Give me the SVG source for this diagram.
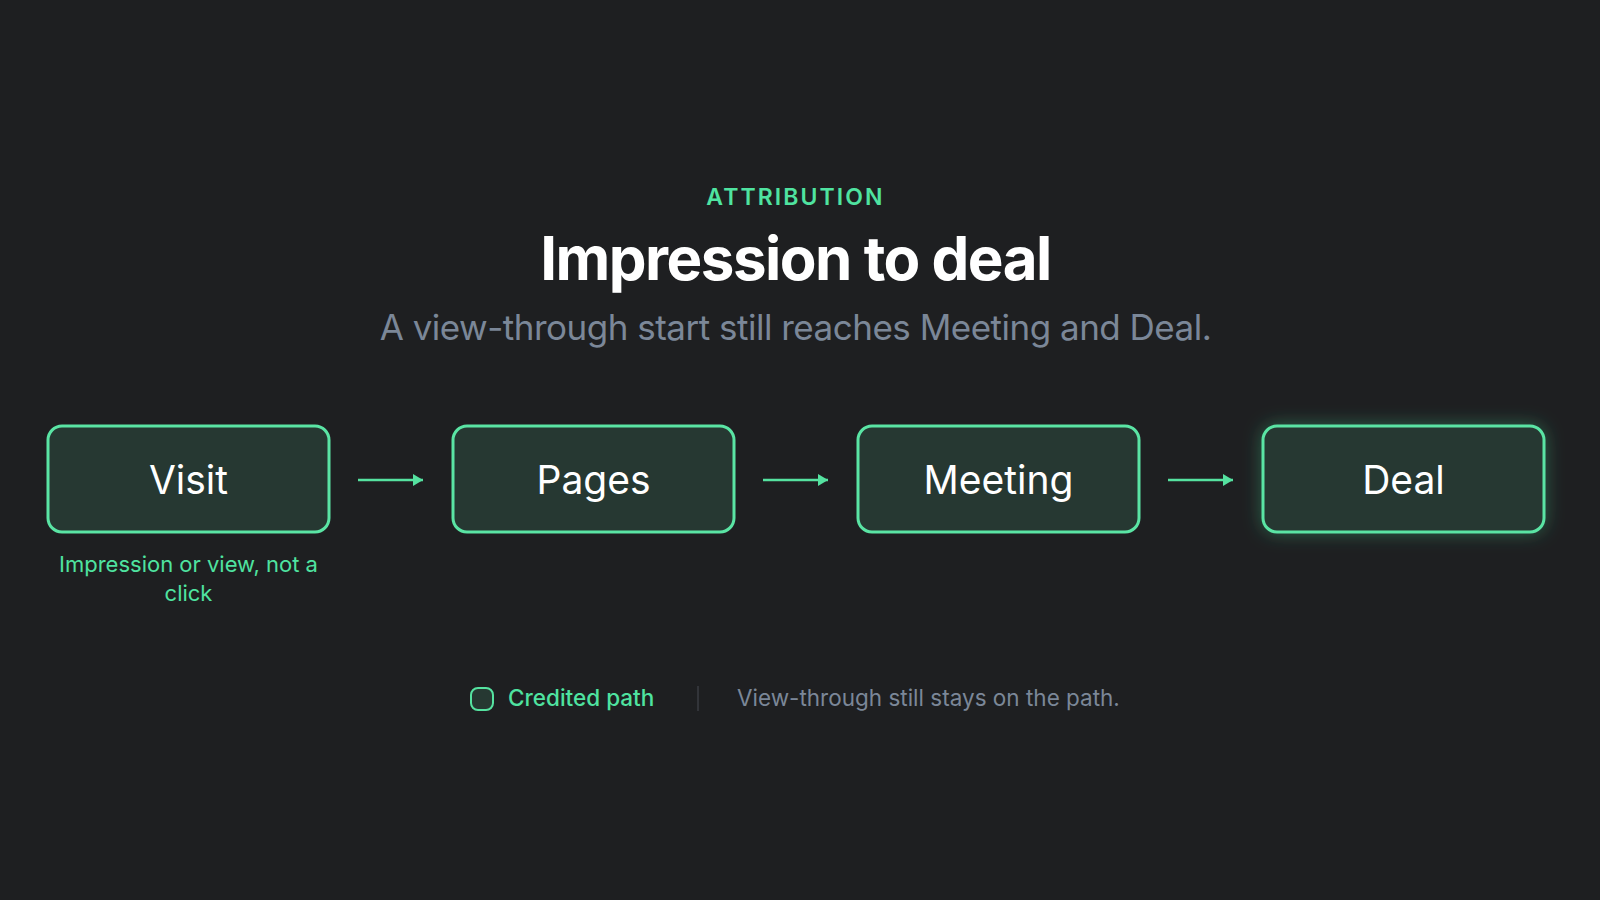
<svg xmlns="http://www.w3.org/2000/svg" width="1600" height="900" viewBox="0 0 1600 900">
<defs>
<style>
.bg{fill:#1e1f21}
.box{fill:#263832;stroke:#5ae4a4;stroke-width:3}
.lbl{font-family:Inter,"Liberation Sans",sans-serif;font-size:39px;font-weight:400;fill:#ffffff;text-anchor:middle}
.note{font-family:Inter,"Liberation Sans",sans-serif;font-size:22px;fill:#4fe3a0;text-anchor:middle}
.conn{stroke:#55e2a0;stroke-width:2.5;fill:none}
</style>
<marker id="ah" viewBox="0 0 10 12" refX="10" refY="6" markerWidth="10" markerHeight="12" markerUnits="userSpaceOnUse" orient="auto">
<path d="M0,0 L10,6 L0,12 Z" fill="#55e2a0"/>
</marker>
<filter id="glow" x="-30%" y="-50%" width="160%" height="200%">
<feGaussianBlur in="SourceAlpha" stdDeviation="9" result="b"/>
<feFlood flood-color="#3ddc94" flood-opacity="0.35"/>
<feComposite in2="b" operator="in" result="g"/>
<feMerge><feMergeNode in="g"/><feMergeNode in="SourceGraphic"/></feMerge>
</filter>
</defs>
<rect class="bg" x="0" y="0" width="1600" height="900"/>
<g id="header">
<text x="795.5" y="205" font-family="Inter,'Liberation Sans',sans-serif" font-size="23" font-weight="600" fill="#4fe3a0" text-anchor="middle" letter-spacing="2.1">ATTRIBUTION</text>
<text x="795.5" y="280" font-family="Inter,'Liberation Sans',sans-serif" font-size="60" font-weight="700" fill="#ffffff" text-anchor="middle" letter-spacing="-1.5">Impression to deal</text>
<text x="795.5" y="340" font-family="Inter,'Liberation Sans',sans-serif" font-size="35" font-weight="400" fill="#7b8798" text-anchor="middle" letter-spacing="-0.5">A view-through start still reaches Meeting and Deal.</text>
</g>
<g id="connectors">
<line class="conn" x1="358" y1="480" x2="423" y2="480" marker-end="url(#ah)"/>
<line class="conn" x1="763" y1="480" x2="828" y2="480" marker-end="url(#ah)"/>
<line class="conn" x1="1168" y1="480" x2="1233" y2="480" marker-end="url(#ah)"/>
</g>
<g id="node-visit">
<rect class="box" x="48" y="426" width="281" height="106" rx="14"/>
<text class="lbl" x="188.5" y="494">Visit</text>
<text class="note" x="188.5" y="572">Impression or view, not a</text>
<text class="note" x="188.5" y="601">click</text>
</g>
<g id="node-pages">
<rect class="box" x="453" y="426" width="281" height="106" rx="14"/>
<text class="lbl" x="593.5" y="494">Pages</text>
</g>
<g id="node-meeting">
<rect class="box" x="858" y="426" width="281" height="106" rx="14"/>
<text class="lbl" x="998.5" y="494">Meeting</text>
</g>
<g id="node-deal">
<rect class="box" x="1263" y="426" width="281" height="106" rx="14" filter="url(#glow)"/>
<text class="lbl" x="1403.5" y="494">Deal</text>
</g>
<g id="legend">
<rect x="471" y="688" width="22" height="22" rx="7" fill="#263832" stroke="#55e2a0" stroke-width="2"/>
<text x="508" y="706" font-family="Inter,'Liberation Sans',sans-serif" font-size="22.5" font-weight="500" fill="#4fe3a0">Credited path</text>
<line x1="698" y1="686" x2="698" y2="711" stroke="#3a3d42" stroke-width="1.5"/>
<text x="737" y="706" font-family="Inter,'Liberation Sans',sans-serif" font-size="22.5" font-weight="400" fill="#7b8798">View-through still stays on the path.</text>
</g>
</svg>
